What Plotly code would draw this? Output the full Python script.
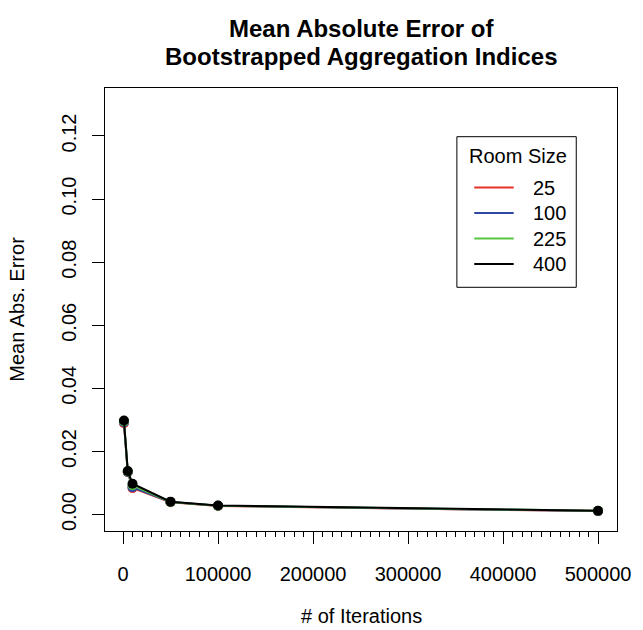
import plotly.graph_objects as go

# ---------------- data ----------------
iterations = [1000, 5000, 10000, 50000, 100000, 500000]
room_sizes = ["25", "100", "225", "400"]
mae_25 = [0.0290, 0.0134, 0.0084, 0.0039, 0.0027, 0.0011]
mae_100 = [0.0293, 0.0135, 0.0087, 0.0040, 0.0028, 0.0011]
mae_225 = [0.0296, 0.0137, 0.0093, 0.0040, 0.0028, 0.0012]
mae_400 = [0.0298, 0.0138, 0.0098, 0.0041, 0.0029, 0.0012]
series = [mae_25, mae_100, mae_225, mae_400]
colors = ["#E5322A", "#2E4AA3", "#58C444", "#000000"]

x_ticks = [0, 100000, 200000, 300000, 400000, 500000]
x_minor = [v for v in range(10000, 500000, 10000) if v % 100000 != 0]
y_ticks = [0.00, 0.02, 0.04, 0.06, 0.08, 0.10, 0.12]

FONT = "Liberation Sans, Arial, Helvetica, sans-serif"

fig = go.Figure()
for name, vals, col in zip(room_sizes, series, colors):
    fig.add_trace(go.Scatter(
        x=iterations, y=vals, mode="lines+markers", name=name,
        line=dict(color=col, width=2),
        marker=dict(color=col, size=10),
        showlegend=False,
    ))

# plot area geometry (pixels)
W, H = 643, 630
L, R, T, B = 105, 19, 88, 99

fig.update_layout(
    width=W, height=H,
    margin=dict(l=L, r=R, t=T, b=B, pad=0),
    paper_bgcolor="white", plot_bgcolor="white",
    font=dict(family=FONT, size=20, color="black"),
    xaxis=dict(
        range=[-18960, 519960], tickmode="array", tickvals=x_ticks,
        ticktext=[str(v) for v in x_ticks],
        ticks="outside", ticklen=12, tickwidth=1, tickcolor="black",
        ticklabelstandoff=13,
        showline=True, linecolor="black", linewidth=1, mirror=True,
        showgrid=False, zeroline=False,
        minor=dict(tickmode="array", tickvals=x_minor, ticks="outside",
                   ticklen=5, tickwidth=1, tickcolor="black", showgrid=False),
        tickfont=dict(size=20, family=FONT),
    ),
    yaxis=dict(
        range=[-0.0052, 0.1352], tickmode="array", tickvals=y_ticks,
        ticktext=[f"{v:.2f}" for v in y_ticks], tickangle=-90,
        ticks="outside", ticklen=12, tickwidth=1, tickcolor="black",
        ticklabelstandoff=8,
        showline=True, linecolor="black", linewidth=1, mirror=True,
        showgrid=False, zeroline=False,
        tickfont=dict(size=20, family=FONT),
    ),
)

ph = H - T - B
pw = W - L - R

def py(p):
    return (H - B - p) / ph

def px(p):
    return (p - L) / pw

annotations = [
    dict(text="<b>Mean Absolute Error of</b>", x=0.5, y=py(29), xref="paper", yref="paper",
         xanchor="center", yanchor="middle", showarrow=False, font=dict(size=24, family=FONT)),
    dict(text="<b>Bootstrapped Aggregation Indices</b>", x=0.5, y=py(57), xref="paper", yref="paper",
         xanchor="center", yanchor="middle", showarrow=False, font=dict(size=24, family=FONT)),
    dict(text="# of Iterations", x=0.5, y=py(616), xref="paper", yref="paper",
         xanchor="center", yanchor="middle", showarrow=False, font=dict(size=20, family=FONT)),
    dict(text="Mean Abs. Error", x=px(15), y=0.5, xref="paper", yref="paper", textangle=-90,
         xanchor="center", yanchor="middle", showarrow=False, font=dict(size=20, family=FONT)),
]

# legend (drawn manually to match base-R style)
shapes = [dict(type="rect", xref="paper", yref="paper",
               x0=px(461.7), x1=px(582.7), y0=py(287.3), y1=py(136.7),
               line=dict(color="black", width=1), fillcolor="rgba(0,0,0,0)")]
annotations.append(dict(text="Room Size", x=px(523.3), y=py(156), xref="paper", yref="paper",
                        xanchor="center", yanchor="middle", showarrow=False,
                        font=dict(size=20, family=FONT)))
for i, (name, col) in enumerate(zip(room_sizes, colors)):
    yy = py(187.5 + 25.5 * i)
    shapes.append(dict(type="line", xref="paper", yref="paper",
                       x0=px(479.3), x1=px(519.3), y0=yy, y1=yy,
                       line=dict(color=col, width=2)))
    annotations.append(dict(text=name, x=px(537), y=yy, xref="paper", yref="paper",
                            xanchor="left", yanchor="middle", showarrow=False,
                            font=dict(size=20, family=FONT)))

fig.update_layout(annotations=annotations, shapes=shapes)
fig.write_html("out.html")
